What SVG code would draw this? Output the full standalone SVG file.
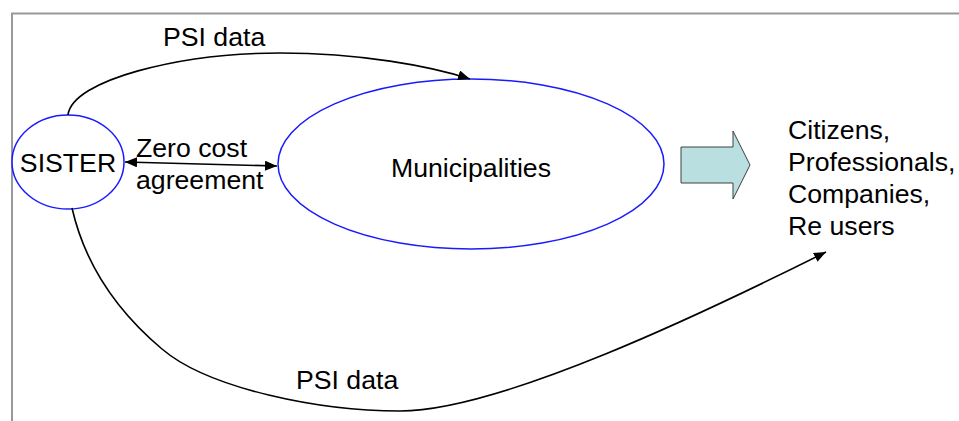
<svg xmlns="http://www.w3.org/2000/svg" width="959" height="421" viewBox="0 0 959 421">
  <style>
    .lbl { font-family: "Liberation Sans", Arial, sans-serif; font-size: 26.67px; fill: #000; }
    .node { fill: #fff; stroke: #1a1aff; stroke-width: 1.5; }
    .conn { fill: none; stroke: #000; stroke-width: 1.6; }
  </style>
  <defs>
    <marker id="ah" viewBox="0 0 12 10" refX="12" refY="5" markerWidth="12" markerHeight="10" markerUnits="userSpaceOnUse" orient="auto-start-reverse">
      <path d="M0,0 L12,5 L0,10 Z" fill="#000"/>
    </marker>
  </defs>
  <rect width="959" height="421" fill="#fff"/>
  <g id="frame">
    <path d="M12,421 L12,13.5 L959,13.5" fill="none" stroke="#999" stroke-width="2"/>
  </g>
  <g id="municipalities">
    <ellipse class="node" cx="471" cy="164" rx="193" ry="85"/>
    <text class="lbl" x="471" y="177" text-anchor="middle">Municipalities</text>
  </g>
  <g id="sister">
    <ellipse class="node" cx="68" cy="162" rx="56" ry="47"/>
    <text class="lbl" x="68" y="172" text-anchor="middle">SISTER</text>
  </g>
  <g id="block-arrow">
    <polygon points="681,147 733,147 733,131 750,165 733,199 733,183 681,183" fill="#b9dfe0" stroke="#404040" stroke-width="1"/>
  </g>
  <g id="users">
    <text class="lbl" x="788" y="139">Citizens,</text>
    <text class="lbl" x="788" y="171">Professionals,</text>
    <text class="lbl" x="788" y="203">Companies,</text>
    <text class="lbl" x="788" y="235">Re users</text>
  </g>
  <g id="connectors">
    <path class="conn" d="M68,115 C72,80 180,53 280,53 C360,53 430,66 470,79" marker-end="url(#ah)"/>
    <path class="conn" d="M125,162 L277,166" marker-start="url(#ah)" marker-end="url(#ah)"/>
    <path class="conn" d="M72,208 C85,265 118,312 162,349 C209,389 320,411 400,411 C500,411 706,312 826,252" marker-end="url(#ah)"/>
    <text class="lbl" x="163" y="46">PSI data</text>
    <text class="lbl" x="136" y="157">Zero cost</text>
    <text class="lbl" x="136" y="189">agreement</text>
    <text class="lbl" x="296" y="389">PSI data</text>
  </g>
</svg>
